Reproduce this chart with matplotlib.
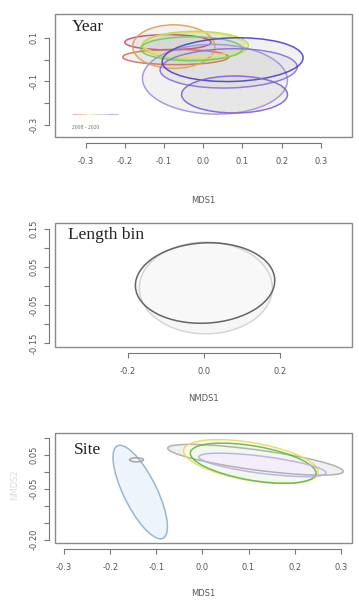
#!/usr/bin/env python3
"""
Three stacked ordination panels (Year, Length bin, Site) with group ellipses,
drawn in the look of a base-R / vegan ordiellipse plot.
"""

import matplotlib
matplotlib.use("Agg")
import matplotlib.pyplot as plt
from matplotlib.patches import Ellipse, Rectangle
from matplotlib.collections import LineCollection


# -------------------------------------------------
# Data
# ellipse rows: centre x, centre y, width, height, angle (data units)
# -------------------------------------------------
year_cx = [-0.09, -0.07, -0.075, -0.025, -0.02, -0.03, 0.03, 0.065, 0.075, 0.08]
year_cy = [0.08, 0.012, 0.06, 0.07, 0.065, 0.05, -0.09, -0.04, 0.0, -0.16]
year_w = [0.22, 0.27, 0.21, 0.26, 0.27, 0.26, 0.37, 0.35, 0.36, 0.27]
year_h = [0.07, 0.07, 0.20, 0.11, 0.13, 0.11, 0.32, 0.18, 0.20, 0.17]
year_ang = [0, 0, 0, 0, 0, 0, -5, 3, 4, 0]
year_colors = ["#c84b6e", "#d0705a", "#e0a050", "#e6e070", "#b8e040",
               "#70cc50", "#a090e0", "#8a70d8", "#4a40c8", "#8060d0"]
year_legend = "2008 - 2020"

len_cx = [0.005, 0.003]
len_cy = [-0.005, 0.008]
len_w = [0.35, 0.367]
len_h = [0.24, 0.21]
len_ang = [0, 3]
len_colors = ["#d2d2d2", "#555555"]

site_cx = [-0.135, -0.143, 0.115, 0.105, 0.11, 0.13]
site_cy = [-0.06, 0.035, 0.035, 0.03, 0.025, 0.02]
site_w = [0.29, 0.03, 0.387, 0.30, 0.28, 0.28]
site_h = [0.075, 0.012, 0.059, 0.11, 0.10, 0.05]
site_ang = [-71, 0, -10.4, -14, -14, -10]
site_colors = ["#8fb0d0", "#a0a0a0", "#aaaaaa", "#e8dc60", "#60b848", "#b8b0e0"]
site_fill = ["#eef4fb", "#f2f2f2", "#f0f0f0", "#fbfbe8", "#f2f8ee", "#f4eefa"]

# axis ticks / labels
year_xticks = [-0.3, -0.2, -0.1, 0.0, 0.1, 0.2, 0.3]
year_yticks = [0.1, 0.0, -0.1, -0.2, -0.3]
year_ylabels = ["0.1", "", "-0.1", "", "-0.3"]

len_xticks = [-0.2, 0.0, 0.2]
len_yticks = [0.15, 0.10, 0.05, 0.0, -0.05, -0.10, -0.15]
len_ylabels = ["0.15", "", "0.05", "", "-0.05", "", "-0.15"]

site_xticks = [-0.3, -0.2, -0.1, 0.0, 0.1, 0.2, 0.3]
site_yticks = [0.10, 0.05, 0.0, -0.05, -0.10, -0.15, -0.20]
site_ylabels = ["", "0.05", "", "-0.05", "", "", "-0.20"]


def r_style_axes(ax, xlim, ylim, xticks, yticks, ylabels, xlabel, label_y):
    ax.set_xlim(*xlim)
    ax.set_ylim(*ylim)

    # box
    ax.add_patch(Rectangle((0, 0), 1, 1, transform=ax.transAxes, fill=False,
                           edgecolor="#8a8a8a", linewidth=1.0, clip_on=False,
                           zorder=5))
    for side in ("top", "right"):
        ax.spines[side].set_visible(False)
    for side in ("left", "bottom"):
        ax.spines[side].set_position(("outward", 4))
        ax.spines[side].set_color("#777777")
        ax.spines[side].set_linewidth(0.8)
    ax.spines["bottom"].set_bounds(min(xticks), max(xticks))
    ax.spines["left"].set_bounds(min(yticks), max(yticks))

    ax.set_xticks(xticks)
    ax.set_xticklabels([f"{t:.1f}" for t in xticks])
    ax.set_yticks(yticks)
    ax.set_yticklabels(ylabels, rotation=90, va="center")
    ax.tick_params(axis="both", length=3.5, width=0.8, color="#777777",
                   labelsize=6, labelcolor="#555555")
    ax.tick_params(axis="x", pad=7)
    ax.tick_params(axis="y", pad=4)

    ax.set_xlabel(xlabel, fontsize=6, color="#555555")
    ax.xaxis.set_label_coords(0.5, label_y)


def add_ellipses(ax, cx, cy, w, h, ang, colors, fills=None, lw=1.1):
    for i in range(len(cx)):
        fc = fills[i] if fills else "#d0d0d0"
        alpha = 1.0 if fills else 0.28
        ax.add_patch(Ellipse((cx[i], cy[i]), w[i], h[i], angle=ang[i],
                             facecolor=fc, edgecolor="none", alpha=alpha))
    for i in range(len(cx)):
        ax.add_patch(Ellipse((cx[i], cy[i]), w[i], h[i], angle=ang[i],
                             facecolor="none", edgecolor=colors[i],
                             linewidth=lw, alpha=0.9))


def main():
    fig = plt.figure(figsize=(3.59, 6.06), dpi=100)
    title_font = dict(family="Liberation Serif", fontsize=12.5, color="#222222")

    # ---- Year ----
    ax1 = fig.add_axes([0.153, 0.774, 0.827, 0.203])
    add_ellipses(ax1, year_cx, year_cy, year_w, year_h, year_ang, year_colors)
    r_style_axes(ax1, (-0.378, 0.379), (-0.355, 0.21), year_xticks,
                 year_yticks, year_ylabels, "MDS1", -0.48)
    ax1.text(0.057, 0.89, "Year", transform=ax1.transAxes, va="center",
             **title_font)
    segs = []
    n = len(year_colors)
    for i in range(n):
        x0 = 0.057 + 0.155 * i / n
        segs.append([(x0, 0.19), (x0 + 0.155 / n, 0.19)])
    ax1.add_collection(LineCollection(segs, colors=year_colors, linewidths=0.9,
                                      alpha=0.4, transform=ax1.transAxes))
    ax1.text(0.057, 0.08, year_legend, transform=ax1.transAxes, fontsize=4,
             color="#666666", va="center", family="Liberation Serif")

    # ---- Length bin ----
    ax2 = fig.add_axes([0.153, 0.427, 0.827, 0.205])
    add_ellipses(ax2, len_cx, len_cy, len_w, len_h, len_ang, len_colors,
                 fills=["#f6f6f6", "#f8f8f8"])
    r_style_axes(ax2, (-0.392, 0.389), (-0.16, 0.165), len_xticks,
                 len_yticks, len_ylabels, "NMDS1", -0.38)
    ax2.text(0.044, 0.9, "Length bin", transform=ax2.transAxes, va="center",
             **title_font)

    # ---- Site ----
    ax3 = fig.add_axes([0.153, 0.104, 0.827, 0.1815])
    add_ellipses(ax3, site_cx, site_cy, site_w, site_h, site_ang, site_colors,
                 fills=site_fill)
    r_style_axes(ax3, (-0.32, 0.324), (-0.21, 0.114), site_xticks,
                 site_yticks, site_ylabels, "MDS1", -0.42)
    ax3.text(0.064, 0.845, "Site", transform=ax3.transAxes, va="center",
             **title_font)
    fig.text(0.042, 0.2, "NMDS2", rotation=90, fontsize=6, color="#dddddd",
             va="center", ha="center")

    fig.savefig("out.png", dpi=100, facecolor="white")
    plt.close(fig)


if __name__ == "__main__":
    main()
